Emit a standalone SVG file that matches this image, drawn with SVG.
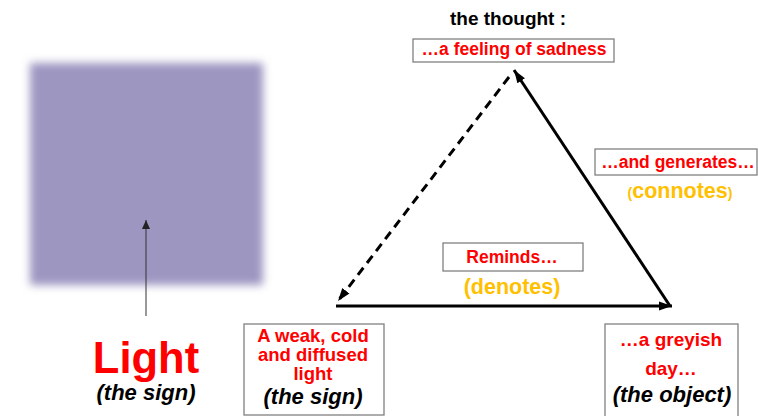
<svg xmlns="http://www.w3.org/2000/svg" width="758" height="416" viewBox="0 0 758 416">
<style>
text{font-family:"Liberation Sans",Arial,sans-serif;font-weight:bold;text-anchor:middle}
.red{fill:#ff0000;font-size:17.5px}
.red2{fill:#ff0000;font-size:19px}
.red3{fill:#ff0000;font-size:18.5px}
.blk{fill:#000;font-size:22px;font-style:italic}
.org{fill:#ffc000}
.box{fill:#fff;stroke:#808080;stroke-width:1.3}
.edge{stroke:#000;stroke-width:3;fill:none}
</style>
<defs>
<filter id="blur" x="-20%" y="-20%" width="140%" height="140%"><feGaussianBlur stdDeviation="4.5"/></filter>
<marker id="ah" markerUnits="userSpaceOnUse" markerWidth="14" markerHeight="12" refX="13" refY="6" orient="auto"><path d="M0,1.5 L13,6 L0,10.5 Z" fill="#000"/></marker>
<marker id="ahs" markerUnits="userSpaceOnUse" markerWidth="10" markerHeight="10" refX="9" refY="4" orient="auto"><path d="M0,0 L9,4 L0,8 Z" fill="#222"/></marker>
</defs>

<g id="image">
<rect x="30" y="63" width="233" height="222" fill="#9d96c1" filter="url(#blur)"/>
</g>

<g id="light">
<text x="146" y="373" style="fill:#ff0000;font-size:43.5px">Light</text>
<text class="blk" x="146" y="400">(the sign)</text>
</g>

<g id="thought">
<text x="508" y="25" style="fill:#000;font-size:19px">the thought :</text>
<rect class="box" x="413" y="39" width="201" height="23"/>
<text class="red" x="514" y="55">…a feeling of sadness</text>
</g>

<g id="sign">
<rect class="box" x="244" y="324" width="140" height="91"/>
<text class="red3" x="313" y="342">A weak, cold</text>
<text class="red3" x="313" y="361">and diffused</text>
<text class="red3" x="313" y="380">light</text>
<text class="blk" x="313" y="404">(the sign)</text>
</g>

<g id="object">
<rect class="box" x="605" y="324" width="133" height="96"/>
<text class="red2" x="671" y="346">…a greyish</text>
<text class="red2" x="671" y="375">day…</text>
<text class="blk" x="672" y="402">(the object)</text>
</g>

<g id="generates">
<rect class="box" x="595" y="149" width="162" height="26"/>
<text class="red" x="678" y="168">…and generates…</text>
<text class="org" x="680" y="198"><tspan style="font-size:14px">(</tspan><tspan style="font-size:21.5px">connotes</tspan><tspan style="font-size:14px">)</tspan></text>
</g>

<g id="reminds">
<rect class="box" x="443" y="243" width="140" height="28"/>
<text class="red" x="512" y="263">Reminds…</text>
<text class="org" x="512" y="294" style="font-size:21.5px">(denotes)</text>
</g>

<g id="connectors">
<line x1="146" y1="316" x2="146" y2="220" stroke="#333" stroke-width="1" marker-end="url(#ahs)"/>
<line class="edge" x1="670" y1="306" x2="514" y2="70" marker-end="url(#ah)"/>
<line class="edge" x1="336" y1="306" x2="672" y2="306" marker-end="url(#ah)"/>
<line class="edge" x1="509" y1="77" x2="338" y2="301" stroke-dasharray="9 6" marker-end="url(#ah)"/>
</g>
</svg>
